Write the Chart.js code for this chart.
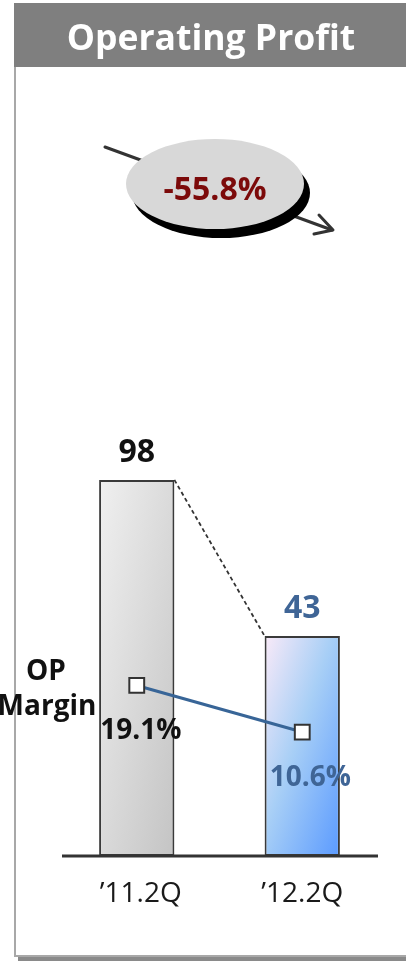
<!DOCTYPE html>
<html>
<head>
<meta charset="utf-8">
<title>Operating Profit</title>
<script src="https://cdn.jsdelivr.net/npm/chart.js@4/dist/chart.umd.min.js"></script>
<style>
  html, body { margin: 0; padding: 0; background: #ffffff; }
  #wrap { position: relative; width: 406px; height: 962px; }
</style>
</head>
<body>
<div id="wrap"><canvas id="chart" width="406" height="962"></canvas></div>
<script>
// Quarterly operating profit and OP margin
const categories = ['\u201911.2Q', '\u201912.2Q'];
const profitValues = [98, 43];
const marginValues = [19.1, 10.6];
const titleText = 'Operating Profit';
const changeText = '-55.8%';
const marginTitle = ['OP', 'Margin'];

const FONT = '"Open Sans", "Noto Sans", sans-serif';
const valueColors = ['#111111', '#3f6596'];
const marginColors = ['#111111', '#3f6596'];
const PROFIT_MIN = -34.5;
const BAR_HALF = 38;

// Frame, title bar and the growth ellipse behind the chart
const backdrop = {
  id: 'backdrop',
  beforeDraw(chart) {
    const c = chart.ctx;
    c.save();
    // panel frame with drop shadow at the bottom
    c.fillStyle = '#8a8a8a';
    c.fillRect(18, 957, 388, 4);
    c.strokeStyle = '#a8a8a8';
    c.lineWidth = 2;
    c.beginPath();
    c.moveTo(15, 60);
    c.lineTo(15, 956);
    c.lineTo(406, 956);
    c.stroke();
    // title bar
    c.fillStyle = '#7f7f7f';
    c.fillRect(14, 3, 392, 64);
    c.fillStyle = '#ffffff';
    c.font = 'bold 35.5px ' + FONT;
    c.textAlign = 'center';
    c.textBaseline = 'alphabetic';
    c.fillText(titleText, 211, 50);

    // trend arrow passing behind the ellipse
    c.strokeStyle = '#333333';
    c.lineWidth = 3;
    c.lineCap = 'round';
    c.lineJoin = 'round';
    c.beginPath();
    c.moveTo(105, 147);
    c.lineTo(332, 230);
    c.stroke();
    c.beginPath();
    c.moveTo(319, 215);
    c.lineTo(333, 230);
    c.lineTo(314, 234);
    c.stroke();

    // ellipse with offset shadow
    c.fillStyle = '#000000';
    c.beginPath();
    c.ellipse(221, 193, 89, 45, 0, 0, Math.PI * 2);
    c.fill();
    c.fillStyle = '#d8d8d8';
    c.beginPath();
    c.ellipse(215, 184, 89, 45, 0, 0, Math.PI * 2);
    c.fill();
    c.fillStyle = '#7c0a0a';
    c.font = 'bold 32px ' + FONT;
    c.textBaseline = 'middle';
    c.fillText(changeText, 215, 191);
    c.restore();
  }
};

// Baseline, connector, value labels and margin labels
const annotate = {
  id: 'annotate',
  afterDatasetsDraw(chart) {
    const c = chart.ctx;
    const area = chart.chartArea;
    const xs = chart.scales.x;
    const bars = chart.getDatasetMeta(1).data;
    const pts = chart.getDatasetMeta(0).data;
    c.save();

    // dashed connector between the bar tops
    const b0 = bars[0], b1 = bars[1];
    c.strokeStyle = '#333333';
    c.lineWidth = 1.8;
    c.setLineDash([4, 3]);
    c.beginPath();
    c.moveTo(b0.x + b0.width / 2, b0.y);
    c.lineTo(b1.x - b1.width / 2, b1.y);
    c.stroke();
    c.setLineDash([]);

    // category baseline
    c.strokeStyle = '#333333';
    c.lineWidth = 3;
    c.beginPath();
    c.moveTo(area.left + 8, area.bottom);
    c.lineTo(area.right - 7, area.bottom);
    c.stroke();

    // bar value labels
    c.textAlign = 'center';
    c.textBaseline = 'alphabetic';
    c.font = 'bold 32px ' + FONT;
    bars.forEach((b, i) => {
      c.fillStyle = valueColors[i];
      c.fillText(String(profitValues[i]), b.x, b.y - 18);
    });

    // margin labels under the markers
    c.font = 'bold 28px ' + FONT;
    pts.forEach((p, i) => {
      c.fillStyle = marginColors[i];
      c.fillText(marginValues[i].toFixed(1) + '%', p.x + (i === 0 ? 4 : 8), p.y + 54);
    });

    // series caption
    c.fillStyle = '#111111';
    c.fillText(marginTitle[0], 46, 680);
    c.fillText(marginTitle[1], 47, 715);

    // category labels
    c.font = '28px ' + FONT;
    c.fillStyle = '#1a1a1a';
    categories.forEach((lab, i) => {
      c.fillText(lab, xs.getPixelForValue(i) + (i === 0 ? 4 : 0), 902);
    });
    c.restore();
  }
};

// Corner-to-corner gradient across each bar
function barFill(ctx) {
  const chart = ctx.chart;
  const xs = chart.scales.x, ys = chart.scales.y;
  if (!xs || !ys || ctx.dataIndex === undefined) return '#dddddd';
  const cx = xs.getPixelForValue(ctx.dataIndex);
  const top = ys.getPixelForValue(profitValues[ctx.dataIndex]);
  const bottom = ys.getPixelForValue(PROFIT_MIN);
  if (![cx, top, bottom].every(Number.isFinite)) return '#dddddd';
  const w = BAR_HALF * 2, h = bottom - top;
  const t = (2 * w * h) / (h * h + w * w);
  const left = cx - BAR_HALF;
  const g = chart.ctx.createLinearGradient(left, top, left + t * h, top + t * w);
  if (ctx.dataIndex === 0) {
    g.addColorStop(0, '#f0f0f0');
    g.addColorStop(1, '#c4c4c4');
  } else {
    g.addColorStop(0, '#faeaf8');
    g.addColorStop(0.45, '#a8cff6');
    g.addColorStop(1, '#5a9aff');
  }
  return g;
}

new Chart(document.getElementById('chart'), {
  data: {
    labels: categories,
    datasets: [
      {
        type: 'line',
        label: 'OP Margin',
        data: marginValues,
        yAxisID: 'y2',
        order: 0,
        borderColor: '#386597',
        borderWidth: 3,
        pointStyle: 'rect',
        pointRadius: 10.5,
        pointBackgroundColor: '#ffffff',
        pointBorderColor: '#333333',
        pointBorderWidth: 2,
        fill: false,
        tension: 0
      },
      {
        type: 'bar',
        label: 'Operating Profit',
        data: profitValues,
        yAxisID: 'y',
        order: 1,
        base: PROFIT_MIN,
        backgroundColor: barFill,
        borderColor: '#3a3a3a',
        borderWidth: 2,
        borderSkipped: false,
        barPercentage: 0.455,
        categoryPercentage: 1
      }
    ]
  },
  options: {
    responsive: false,
    animation: false,
    devicePixelRatio: 1,
    layout: { padding: { left: 54, right: 21, top: 420, bottom: 106 } },
    plugins: { legend: { display: false }, tooltip: { enabled: false } },
    scales: {
      x: { display: false },
      y: { display: false, min: PROFIT_MIN, max: 119.1 },
      y2: { display: false, min: -12, max: 67.5 }
    }
  },
  plugins: [backdrop, annotate]
});
</script>
</body>
</html>
